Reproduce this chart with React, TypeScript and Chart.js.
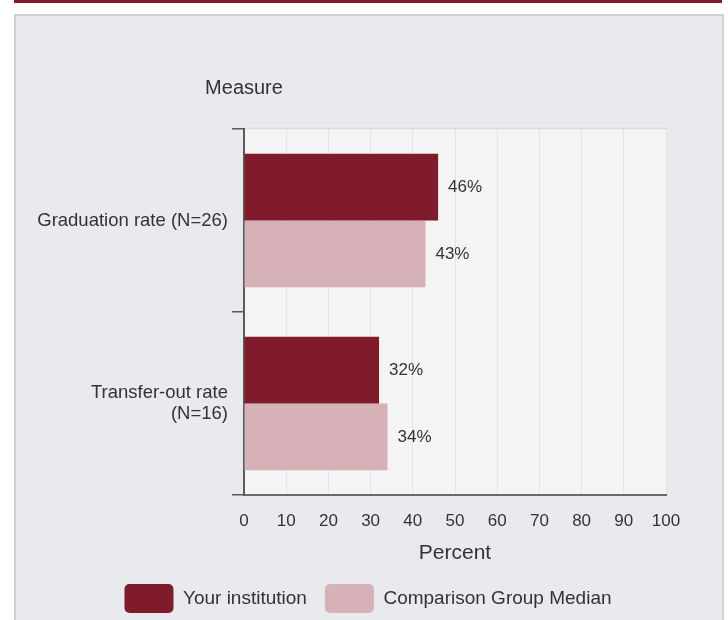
import React, { useEffect, useRef } from "react";
import { Chart, registerables } from "chart.js";

Chart.register(...registerables);

const categories: (string | string[])[] = [
  "Graduation rate (N=26)",
  ["Transfer-out rate", "(N=16)"],
];
const seriesNames = ["Your institution", "Comparison Group Median"];
const institutionValues = [46, 32];
const comparisonValues = [43, 34];
const xMin = 0;
const xMax = 100;
const xStep = 10;
const yAxisTitle = "Measure";
const xAxisTitle = "Percent";
const seriesColors = ["#801b2c", "#d6b1b7"];

const FONT = "'Liberation Sans', Arial, Helvetica, sans-serif";
const TEXT = "#333333";

const plotBgPlugin = {
  id: "plotBg",
  afterLayout(chart: any) {
    if (chart.legend) {
      chart.legend.left += 25;
      chart.legend.right += 25;
    }
  },
  beforeDraw(chart: any) {
    const { ctx, chartArea } = chart;
    ctx.save();
    ctx.fillStyle = "#f4f4f4";
    ctx.fillRect(chartArea.left, chartArea.top, chartArea.right - chartArea.left, chartArea.bottom - chartArea.top);
    ctx.strokeStyle = "#d9d9db";
    ctx.lineWidth = 1.5;
    ctx.beginPath();
    ctx.moveTo(chartArea.left, chartArea.top - 0.5);
    ctx.lineTo(chartArea.right + 1, chartArea.top - 0.5);
    ctx.stroke();
    ctx.restore();
  },
};

const valueLabelPlugin = {
  id: "valueLabels",
  afterDatasetsDraw(chart: any) {
    const { ctx } = chart;
    ctx.save();
    ctx.font = `17px ${FONT}`;
    ctx.fillStyle = TEXT;
    ctx.textAlign = "left";
    ctx.textBaseline = "middle";
    chart.data.datasets.forEach((ds: any, i: number) => {
      const meta = chart.getDatasetMeta(i);
      meta.data.forEach((bar: any, j: number) => {
        ctx.fillText(`${ds.data[j]}%`, bar.x + 10, bar.y);
      });
    });
    ctx.restore();
  },
};

const yTitlePlugin = {
  id: "yTitle",
  afterDraw(chart: any) {
    const { ctx, chartArea } = chart;
    ctx.save();
    ctx.font = `20px ${FONT}`;
    ctx.fillStyle = TEXT;
    ctx.textAlign = "center";
    ctx.textBaseline = "middle";
    ctx.fillText(yAxisTitle, chartArea.left, chartArea.top - 41);
    ctx.restore();
  },
};

export default function App() {
  const canvasRef = useRef<HTMLCanvasElement | null>(null);

  useEffect(() => {
    if (!canvasRef.current) return;
    const chart = new Chart(canvasRef.current, {
      type: "bar",
      data: {
        labels: categories as any,
        datasets: [
          {
            label: seriesNames[0],
            data: institutionValues,
            backgroundColor: seriesColors[0],
            barPercentage: 1,
            categoryPercentage: 0.73,
          },
          {
            label: seriesNames[1],
            data: comparisonValues,
            backgroundColor: seriesColors[1],
            barPercentage: 1,
            categoryPercentage: 0.73,
          },
        ],
      },
      options: {
        indexAxis: "y",
        responsive: false,
        animation: false,
        devicePixelRatio: 1,
        layout: { padding: { left: 20, right: 62, top: 129, bottom: 7 } },
        plugins: {
          title: { display: false },
          tooltip: { enabled: false },
          legend: {
            position: "bottom",
            labels: {
              boxWidth: 49,
              boxHeight: 29,
              padding: 18,
              useBorderRadius: true,
              borderRadius: 5,
              color: TEXT,
              font: { size: 19, family: FONT },
            },
          },
        },
        scales: {
          x: {
            type: "linear",
            min: xMin,
            max: xMax,
            ticks: {
              stepSize: xStep,
              color: TEXT,
              padding: 16,
              font: { size: 17, family: FONT },
            },
            grid: { color: "#dfe3ee", lineWidth: 1, drawTicks: false },
            border: { display: true, color: "#6b6b6b", width: 2 },
            title: {
              display: true,
              text: xAxisTitle,
              color: TEXT,
              font: { size: 21, family: FONT },
              padding: { top: 0, bottom: 0 },
            },
            afterFit(scale: any) {
              scale.height = 71;
            },
          },
          y: {
            type: "category",
            grid: {
              offset: true,
              drawOnChartArea: false,
              drawTicks: true,
              tickLength: 12,
              color: "#5a5a5a",
              lineWidth: 1.5,
            },
            border: { display: true, color: "#5a5a5a", width: 2 },
            ticks: {
              color: TEXT,
              padding: 4,
              font: { size: 18.5, family: FONT, lineHeight: 1.1 },
            },
            afterFit(scale: any) {
              scale.width = 224;
            },
          },
        },
      },
      plugins: [plotBgPlugin, valueLabelPlugin, yTitlePlugin],
    } as any);
    return () => chart.destroy();
  }, []);

  return (
    <div style={{ position: "absolute", left: 0, top: 0, width: 728, height: 620, overflow: "hidden", background: "#ffffff" }}>
      <div style={{ position: "absolute", left: 14, top: 0, width: 708, height: 3, background: "#7f1a2d" }} />
      <div
        style={{
          position: "absolute",
          left: 14,
          top: 14,
          width: 706,
          height: 620,
          background: "#e9eaee",
          border: "2px solid #d2d2d4",
        }}
      />
      <canvas ref={canvasRef} width={728} height={630} style={{ position: "absolute", left: 0, top: 0 }} />
    </div>
  );
}
